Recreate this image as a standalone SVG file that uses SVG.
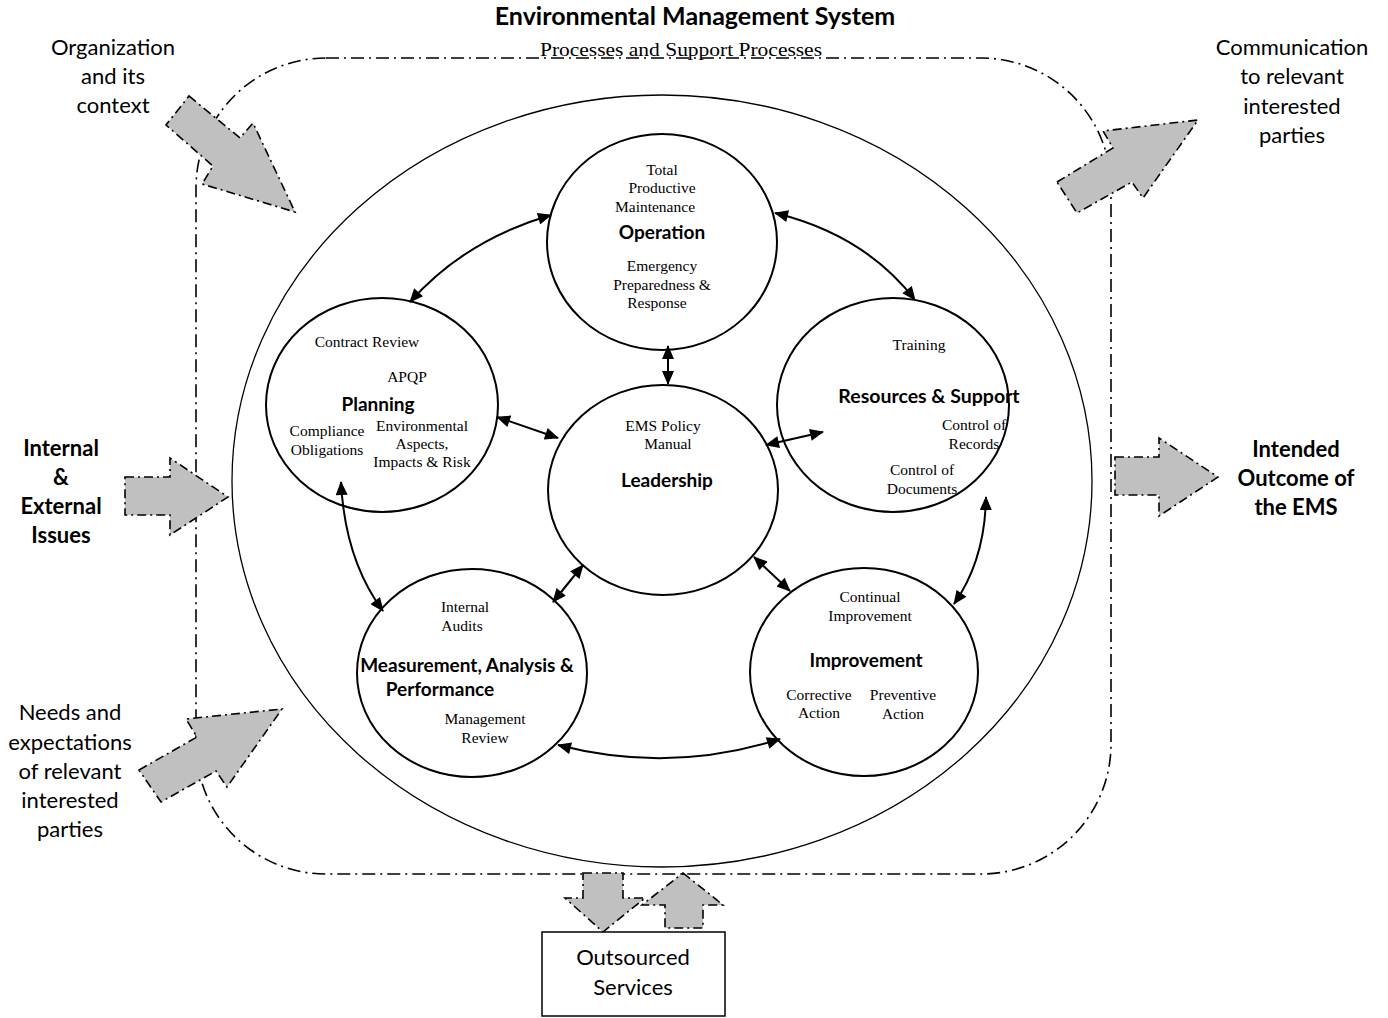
<svg xmlns="http://www.w3.org/2000/svg" width="1388" height="1018" viewBox="0 0 1388 1018">
<defs>
<marker id="ah" viewBox="0 0 14 12" refX="13" refY="6" markerWidth="15" markerHeight="12" markerUnits="userSpaceOnUse" orient="auto-start-reverse">
<path d="M0,0 L14,6 L0,12 Z" fill="#000"/>
</marker>
<style>
.sans{font-family:Lato,"Liberation Sans",sans-serif;fill:#000}
.side{font-size:22px}
.bold{font-weight:bold}
.title{font-size:25px;font-weight:bold}
.lbl{font-size:19px;font-weight:bold}
.ser{font-family:"Liberation Serif","Times New Roman",serif;font-size:15.5px;fill:#000}
.circ{fill:#fff;stroke:#000;stroke-width:2}
.garrow{fill:#c0c0c0;stroke:#000;stroke-width:1.6;stroke-dasharray:9 4 2 4}
.conn{fill:none;stroke:#000;stroke-width:2;marker-start:url(#ah);marker-end:url(#ah)}
</style>
</defs>
<rect width="1388" height="1018" fill="#fff"/>

<g id="ems-boundary">
<rect x="196" y="58" width="915" height="816" rx="130" ry="130" fill="none" stroke="#000" stroke-width="1.6" stroke-dasharray="13 5 2 5"/>
<ellipse cx="662" cy="481" rx="430" ry="386" fill="none" stroke="#000" stroke-width="1.3"/>
<text class="sans title" x="695" y="25" text-anchor="middle">Environmental Management System</text>
<text class="ser" x="540" y="56" textLength="282" lengthAdjust="spacingAndGlyphs" style="font-size:19px">Processes and Support Processes</text>
</g>

<g id="input-arrows">
<polygon class="garrow" points="189,96 240,138 253,123 295,212 202,184 213,166 166,125"/>
<polygon class="garrow" points="125,477 170,477 170,458 228,497 170,535 170,515 125,515"/>
<polygon class="garrow" points="139,770 197,737 186,719 282,709 227,787 216,771 161,802"/>
<polygon class="garrow" points="1057,182 1113,148 1103,131 1198,120 1143,198 1132,182 1077,213"/>
<polygon class="garrow" points="1115,457 1159,457 1159,438 1218,477 1159,516 1159,495 1115,495"/>
<polygon class="garrow" points="583,873 623,873 623,898 645,898 603,932 565,898 583,898"/>
<polygon class="garrow" points="683,873 723,905 703,905 703,928 665,928 665,905 642,905"/>
</g>

<g id="side-labels">
<text class="sans side" text-anchor="middle"><tspan x="113" y="55">Organization</tspan><tspan x="113" y="84">and its</tspan><tspan x="113" y="113">context</tspan></text>
<text class="sans side" text-anchor="middle"><tspan x="1292" y="55">Communication</tspan><tspan x="1292" y="84">to relevant</tspan><tspan x="1292" y="114">interested</tspan><tspan x="1292" y="143">parties</tspan></text>
<text class="sans side bold" text-anchor="middle"><tspan x="61" y="456">Internal</tspan><tspan x="61" y="485">&amp;</tspan><tspan x="61" y="514">External</tspan><tspan x="61" y="543">Issues</tspan></text>
<text class="sans side bold" text-anchor="middle"><tspan x="1296" y="457">Intended</tspan><tspan x="1296" y="486">Outcome of</tspan><tspan x="1296" y="515">the EMS</tspan></text>
<text class="sans side" text-anchor="middle"><tspan x="70" y="720">Needs and</tspan><tspan x="70" y="750">expectations</tspan><tspan x="70" y="779">of relevant</tspan><tspan x="70" y="808">interested</tspan><tspan x="70" y="837">parties</tspan></text>
</g>

<g id="outsourced">
<rect x="542" y="932" width="183" height="84" fill="#fff" stroke="#000" stroke-width="1.5"/>
<text class="sans side" text-anchor="middle"><tspan x="633" y="965">Outsourced</tspan><tspan x="633" y="995">Services</tspan></text>
</g>

<g id="operation">
<ellipse class="circ" cx="662" cy="242" rx="115" ry="108"/>
<text class="ser" text-anchor="middle"><tspan x="662" y="175">Total</tspan><tspan x="662" y="193">Productive</tspan><tspan x="655" y="212">Maintenance</tspan></text>
<text class="sans lbl" x="662" y="239" text-anchor="middle">Operation</text>
<text class="ser" text-anchor="middle"><tspan x="662" y="271">Emergency</tspan><tspan x="662" y="290">Preparedness &amp;</tspan><tspan x="657" y="308">Response</tspan></text>
</g>

<g id="planning">
<ellipse class="circ" cx="382" cy="405" rx="116" ry="107"/>
<text class="ser" x="367" y="347" text-anchor="middle">Contract Review</text>
<text class="ser" x="407" y="382" text-anchor="middle">APQP</text>
<text class="sans lbl" x="378" y="411" text-anchor="middle">Planning</text>
<text class="ser" text-anchor="middle"><tspan x="327" y="436">Compliance</tspan><tspan x="327" y="455">Obligations</tspan></text>
<text class="ser" text-anchor="middle"><tspan x="422" y="431">Environmental</tspan><tspan x="422" y="449">Aspects,</tspan><tspan x="422" y="467">Impacts &amp; Risk</tspan></text>
</g>

<g id="leadership">
<ellipse class="circ" cx="663" cy="490" rx="115" ry="105"/>
<text class="ser" text-anchor="middle"><tspan x="663" y="431">EMS Policy</tspan><tspan x="668" y="449">Manual</tspan></text>
<text class="sans lbl" x="667" y="487" text-anchor="middle">Leadership</text>
</g>

<g id="resources">
<ellipse class="circ" cx="893" cy="405" rx="116" ry="107"/>
<text class="ser" x="919" y="350" text-anchor="middle">Training</text>
<text class="sans lbl" x="929" y="403" text-anchor="middle" style="font-size:19.5px">Resources &amp; Support</text>
<text class="ser" text-anchor="middle"><tspan x="974" y="430">Control of</tspan><tspan x="974" y="449">Records</tspan></text>
<text class="ser" text-anchor="middle"><tspan x="922" y="475">Control of</tspan><tspan x="922" y="494">Documents</tspan></text>
</g>

<g id="measurement">
<ellipse class="circ" cx="472" cy="673" rx="115" ry="104"/>
<text class="ser" text-anchor="middle"><tspan x="465" y="612">Internal</tspan><tspan x="462" y="631">Audits</tspan></text>
<text class="sans lbl" text-anchor="middle"><tspan x="467" y="672">Measurement, Analysis &amp;</tspan><tspan x="440" y="696">Performance</tspan></text>
<text class="ser" text-anchor="middle"><tspan x="485" y="724">Management</tspan><tspan x="485" y="743">Review</tspan></text>
</g>

<g id="improvement">
<ellipse class="circ" cx="864" cy="672" rx="114" ry="104"/>
<text class="ser" text-anchor="middle"><tspan x="870" y="602">Continual</tspan><tspan x="870" y="621">Improvement</tspan></text>
<text class="sans lbl" x="866" y="667" text-anchor="middle">Improvement</text>
<text class="ser" text-anchor="middle"><tspan x="819" y="700">Corrective</tspan><tspan x="819" y="718">Action</tspan></text>
<text class="ser" text-anchor="middle"><tspan x="903" y="700">Preventive</tspan><tspan x="903" y="719">Action</tspan></text>
</g>

<g id="connectors">
<path class="conn" d="M551,215 Q465,240 410,302"/>
<path class="conn" d="M775,213 Q865,235 915,300"/>
<path class="conn" d="M668,346 L668,384"/>
<path class="conn" d="M497,417 L558,438"/>
<path class="conn" d="M766,445 L823,432"/>
<path class="conn" d="M341,482 Q345,560 383,611"/>
<path class="conn" d="M986,497 Q985,560 954,604"/>
<path class="conn" d="M583,565 L553,602"/>
<path class="conn" d="M754,557 L790,591"/>
<path class="conn" d="M558,745 Q670,774 780,739"/>
</g>
</svg>
